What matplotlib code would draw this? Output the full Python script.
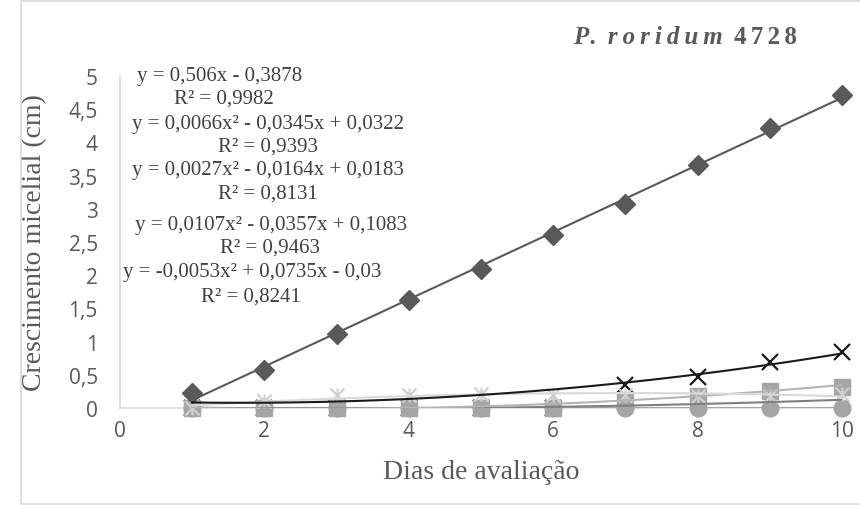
import numpy as np
import matplotlib
matplotlib.use('Agg')
import matplotlib.pyplot as plt
from matplotlib.path import Path
from matplotlib.patches import Rectangle

# data
dias = [1, 2, 3, 4, 5, 6, 7, 8, 9, 10]
losango = [0.23, 0.57, 1.11, 1.62, 2.10, 2.61, 3.07, 3.66, 4.22, 4.72]
xis = [0, 0, 0, 0, 0, 0, 0.35, 0.47, 0.69, 0.84]
asterisco = [0, 0.10, 0.20, 0.20, 0.21, 0.20, 0.20, 0.18, 0.18, 0.21]
quadrado = [0, 0, 0, 0, 0, 0, 0.10, 0.18, 0.26, 0.32]
circulo = [0, 0, 0, 0, 0, 0, 0, 0, 0, 0]

# trendline coefficients (highest power first)
coef_losango = [0.506, -0.3878]
coef_quadrado = [0.0066, -0.0345, 0.0322]
coef_oculta = [0.0027, -0.0164, 0.0183]
coef_xis = [0.0107, -0.0357, 0.1083]
coef_asterisco = [-0.0053, 0.0735, -0.03]
coef_circulo = [0.0]

equacoes = [
    'y = 0,506x - 0,3878', 'R² = 0,9982',
    'y = 0,0066x² - 0,0345x + 0,0322', 'R² = 0,9393',
    'y = 0,0027x² - 0,0164x + 0,0183', 'R² = 0,8131',
    'y = 0,0107x² - 0,0357x + 0,1083', 'R² = 0,9463',
    'y = -0,0053x² + 0,0735x - 0,03', 'R² = 0,8241',
]
eq_x = [220, 224, 268, 268, 268, 268, 271, 270, 252, 251]
eq_y = [76, 99, 124, 147, 171, 194, 226, 248, 273, 297]

yticks = [0, 0.5, 1, 1.5, 2, 2.5, 3, 3.5, 4, 4.5, 5]
ylabels = ['0', '0,5', '1', '1,5', '2', '2,5', '3', '3,5', '4', '4,5', '5']
xticks = [0, 2, 4, 6, 8, 10]

W, H = 860, 506
fig = plt.figure(figsize=(8.6, 5.06), dpi=100)
fig.patches.append(Rectangle((21 / W, 1 / H), 1.0, (H - 3) / H, transform=fig.transFigure,
                             fill=False, edgecolor='#d9d9d9', linewidth=1.2))
ax = fig.add_axes([120 / W, 97 / H, 722 / W, 332 / H])

star = Path([(-1, -1), (1, 1), (-1, 1), (1, -1), (0, -1), (0, 1)],
            [Path.MOVETO, Path.LINETO, Path.MOVETO, Path.LINETO, Path.MOVETO, Path.LINETO])

ax.plot(dias, xis, linestyle='none', marker='x', ms=11, mew=1.6, color='#1a1a1a', zorder=3, clip_on=False)
ax.plot(dias, circulo, linestyle='none', marker='o', ms=12, color='#a5a5a5', zorder=4, clip_on=False)
ax.plot(dias, quadrado, linestyle='none', marker='s', ms=12, color='#a5a5a5', zorder=5, clip_on=False)
ax.plot(dias, asterisco, linestyle='none', marker=star, ms=10, mew=1.6, color='#d0d0d0', zorder=6, clip_on=False)
ax.plot(dias, losango, linestyle='none', marker='D', ms=10, color='#595959', zorder=7, clip_on=False)

xt = np.linspace(1, 10, 100)
ax.plot(xt, np.polyval(coef_circulo, xt), color='#a5a5a5', lw=1.5, zorder=8)
ax.plot(xt, np.polyval(coef_oculta, xt), color='#7f7f7f', lw=1.5, zorder=8)
ax.plot(xt, np.polyval(coef_quadrado, xt), color='#b4b4b4', lw=1.5, zorder=8)
ax.plot(xt, np.polyval(coef_asterisco, xt), color='#d9d9d9', lw=1.5, zorder=8)
ax.plot(xt, np.polyval(coef_xis, xt), color='#1a1a1a', lw=1.5, zorder=9)
ax.plot(xt, np.polyval(coef_losango, xt), color='#595959', lw=1.5, zorder=9)

ax.set_xlim(0, 10)
ax.set_ylim(0, 5)
for s in ['top', 'right']:
    ax.spines[s].set_visible(False)
ax.spines['left'].set_color('#d9d9d9')
ax.spines['bottom'].set_color('#d9d9d9')
ax.spines['left'].set_linewidth(1.2)
ax.spines['bottom'].set_linewidth(1.2)
ax.set_yticks(yticks)
ax.set_yticklabels(ylabels)
ax.set_xticks(xticks)
ax.tick_params(length=0, labelsize=15, colors='#595959', labelfontfamily='Open Sans')
ax.tick_params(axis='y', pad=16)
ax.tick_params(axis='x', pad=9)

ax.set_ylabel('Crescimento micelial (cm)', family='Liberation Serif', fontsize=20, color='#595959')
ax.set_xlabel('Dias de avaliação', family='Liberation Serif', fontsize=20, color='#595959')
ax.yaxis.set_label_coords(-0.118, 0.5)
ax.xaxis.set_label_coords(0.5, -0.155)
ax.xaxis.label.set_va('top')
ax.yaxis.label.set_va('center')

for t, x, y in zip(equacoes, eq_x, eq_y):
    fig.text(x / W, 1 - y / H, t, ha='center', va='center', family='Liberation Serif',
             fontsize=15, color='#404040')

fig.text(573 / W, 1 - 38 / H, 'P\u200a.\u2009 r\u2009o\u2009r\u2009i\u2009d\u2009u\u2009m', ha='left', va='center',
         family='Liberation Serif', style='italic', weight='bold', fontsize=18, color='#595959')
fig.text(797 / W, 1 - 38 / H, '4\u200a\u200a7\u200a\u200a2\u200a\u200a8', ha='right', va='center',
         family='Liberation Serif', weight='bold', fontsize=18, color='#595959')

fig.savefig('out.png', dpi=100)
